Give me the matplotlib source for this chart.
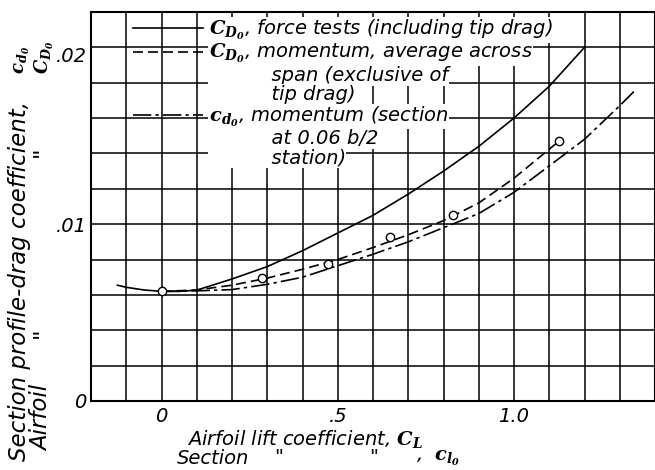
import numpy as np
import matplotlib
matplotlib.use("Agg")
import matplotlib.pyplot as plt
from matplotlib.lines import Line2D

plt.rcParams['font.family'] = ['DejaVu Sans']
plt.rcParams['font.style'] = 'oblique'
plt.rcParams['mathtext.fontset'] = 'dejavuserif'

# force tests (including tip drag), C_D0
cl_force = [-0.125, -0.1, -0.05, 0.0, 0.05, 0.1, 0.2, 0.3, 0.4, 0.5, 0.6, 0.7, 0.8, 0.9, 1.0, 1.1, 1.2]
cd_force = [0.00655, 0.00643, 0.00628, 0.0062, 0.0062, 0.00627, 0.0069, 0.0076, 0.0085, 0.0095,
            0.0105, 0.0117, 0.0130, 0.0144, 0.0160, 0.0178, 0.0200]

# momentum, average across span, C_D0
cl_mom = [0.0, 0.1, 0.2, 0.3, 0.4, 0.5, 0.6, 0.7, 0.8, 0.9, 1.0, 1.128]
cd_mom = [0.0062, 0.00628, 0.00655, 0.00695, 0.00745, 0.0080, 0.00868, 0.0094, 0.0102, 0.0112,
          0.0126, 0.0147]

# momentum, section at 0.06 b/2, c_d0
cl_sec = [0.0, 0.1, 0.2, 0.3, 0.4, 0.5, 0.6, 0.7, 0.8, 0.9, 1.0, 1.1, 1.2, 1.3, 1.34]
cd_sec = [0.0062, 0.00623, 0.0063, 0.0066, 0.0070, 0.00765, 0.0083, 0.0090, 0.0098, 0.0106,
          0.0118, 0.0133, 0.0148, 0.0167, 0.0175]

# test points
cl_pts = [0.0, 0.285, 0.471, 0.649, 0.828, 1.128]
cd_pts = [0.00623, 0.00693, 0.00772, 0.00925, 0.0105, 0.0147]

xtick_vals = [0, 0.5, 1.0]
xtick_labels = ['0', '.5', '1.0']
ytick_vals = [0, 0.01, 0.02]
ytick_labels = ['0', '.01', '.02']

W, H = 655, 470
fig = plt.figure(figsize=(W / 100, H / 100), dpi=100)
ax = fig.add_axes([91 / W, 69 / H, 564 / W, 389 / H])

ax.plot(cl_force, cd_force, color='black', lw=1.2, zorder=3)
ax.plot(cl_mom, cd_mom, color='black', lw=1.2, dashes=(6, 3), zorder=3)
ax.plot(cl_sec, cd_sec, color='black', lw=1.2, dashes=(11, 2.5, 2, 2.5), zorder=3)
ax.plot(cl_pts, cd_pts, 'o', ms=6, mfc='white', mec='black', mew=1.0, zorder=4)

ax.set_xlim(-0.2, 1.4)
ax.set_ylim(0, 0.022)
ax.set_xticks(xtick_vals)
ax.set_xticklabels(xtick_labels)
ax.set_xticks(np.arange(-0.2, 1.41, 0.1), minor=True)
ax.set_yticks(ytick_vals)
ax.set_yticklabels(ytick_labels)
ax.set_yticks(np.arange(0, 0.0221, 0.002), minor=True)
ax.tick_params(which='both', length=0)
ax.tick_params(axis='x', pad=4, labelsize=14)
ax.tick_params(axis='y', pad=3, labelsize=14)
ax.get_yticklabels()[2].set_va('top')
ax.grid(which='both', color='black', lw=1.1, zorder=0)
ax.set_axisbelow(True)
for s in ax.spines.values():
    s.set_linewidth(1.5)

C_D0 = r'$\mathbfit{C}_{\mathbfit{D}_{\mathbf{0}}}$'
c_d0 = r'$\mathbfit{c}_{\mathbfit{d}_{\mathbf{0}}}$'
blank = Line2D([], [], color='none')
handles = [Line2D([], [], color='black', lw=1.2),
           Line2D([], [], color='black', lw=1.2, dashes=(6, 3)),
           blank, blank,
           Line2D([], [], color='black', lw=1.2, dashes=(11, 2.5, 2, 2.5)),
           blank, blank]
labels = [C_D0 + ', force tests (including tip drag)',
          C_D0 + ', momentum, average across',
          '          span (exclusive of',
          '          tip drag)',
          c_d0 + ', momentum (section',
          '          at 0.06 b/2',
          '          station)']
leg = ax.legend(handles, labels, loc='upper left', bbox_to_anchor=(0.074, 0.985),
                frameon=False, borderpad=0, borderaxespad=0, handlelength=3.6,
                handletextpad=0.3, labelspacing=0.02,
                prop={'family': 'DejaVu Sans', 'style': 'oblique', 'size': 14})
leg.set_zorder(6)
for t in leg.get_texts():
    t.set_bbox(dict(facecolor='white', edgecolor='none', pad=0.6))

# y-axis label (two lines)
fs = 16.5
fig.text(20 / W, 1 - 461 / H, 'Section profile-drag coefficient, ',
         rotation=90, ha='center', va='bottom', fontsize=fs)
fig.text(22 / W, 1 - 74 / H, c_d0, rotation=90, ha='center', va='bottom', fontsize=13)
fig.text(42 / W, 1 - 451 / H, 'Airfoil', rotation=90, ha='center', va='bottom', fontsize=fs)
fig.text(42 / W, 1 - 333 / H, '"', rotation=90, ha='center', va='center', fontsize=fs)
fig.text(42 / W, 1 - 152 / H, '"', rotation=90, ha='center', va='center', fontsize=fs)
fig.text(44 / W, 1 - 74 / H, C_D0, rotation=90, ha='center', va='bottom', fontsize=13)

# x-axis label (two lines)
fx = 14
fig.text(187 / W, 1 - 439 / H, 'Airfoil lift coefficient, $\\mathbfit{C}_{\\mathbfit{L}}$',
         ha='left', va='center', fontsize=fx)
fig.text(177 / W, 1 - 458 / H, 'Section', ha='left', va='center', fontsize=fx)
fig.text(279 / W, 1 - 458 / H, '"', ha='center', va='center', fontsize=fx)
fig.text(374 / W, 1 - 458 / H, '"', ha='center', va='center', fontsize=fx)
fig.text(416 / W, 1 - 458 / H, ',  $\\mathbfit{c}_{\\mathbfit{l}_{\\mathbf{0}}}$',
         ha='left', va='center', fontsize=fx)

fig.savefig('out.png', dpi=100)
